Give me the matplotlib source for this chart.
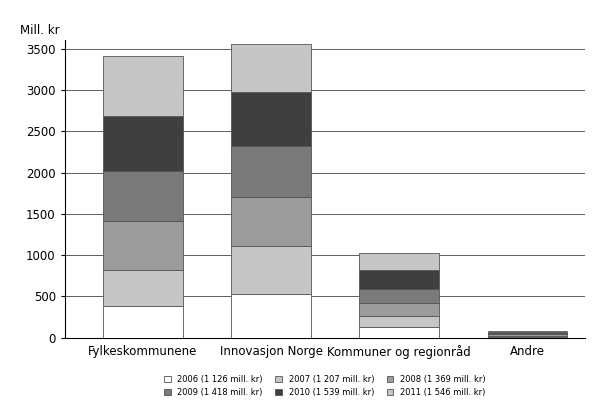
import matplotlib
matplotlib.use("Agg")
import matplotlib.pyplot as plt
import numpy as np

categories = ["Fylkeskommunene", "Innovasjon Norge", "Kommuner og regionråd", "Andre"]
series = ["2006 (1 126 mill. kr)", "2007 (1 207 mill. kr)", "2008 (1 369 mill. kr)",
          "2009 (1 418 mill. kr)", "2010 (1 539 mill. kr)", "2011 (1 546 mill. kr)"]
values = [
    [380, 530, 130, 12],
    [435, 580, 135, 14],
    [600, 600, 155, 14],
    [605, 610, 170, 14],
    [670, 650, 230, 14],
    [720, 590, 210, 12],
]
colors = ["#ffffff", "#c6c6c6", "#9c9c9c", "#7a7a7a", "#3f3f3f", "#c6c6c6"]

fig = plt.figure(figsize=(6, 4.16), dpi=100)
ax = fig.add_axes([0.108, 0.188, 0.867, 0.715])
x = np.arange(len(categories))
bottom = np.zeros(len(categories))
for s, v, c in zip(series, values, colors):
    ax.bar(x, v, 0.62, bottom=bottom, color=c, edgecolor="#555555", linewidth=0.6, label=s, zorder=3)
    bottom += np.array(v)
ax.set_xlim(-0.61, 3.45)
ax.set_ylim(0, 3600)
ax.set_yticks(range(0, 3501, 500))
ax.tick_params(axis="y", labelsize=8.5, length=3)
ax.tick_params(axis="x", labelsize=8.5, length=0, pad=5)
ax.set_xticks(x)
ax.set_xticklabels(categories)
ax.grid(axis="y", color="#444444", linewidth=0.6, zorder=0)
for sp in ["top", "right"]:
    ax.spines[sp].set_visible(False)
ax.text(-0.01, 1.01, "Mill. kr", transform=ax.transAxes, ha="right", va="bottom", fontsize=8.5)
h, l = ax.get_legend_handles_labels()
order = [0, 3, 1, 4, 2, 5]
ax.legend([h[i] for i in order], [l[i] for i in order], loc="upper center",
          bbox_to_anchor=(0.5, -0.1), ncol=3, fontsize=6, frameon=False,
          handlelength=0.8, handleheight=0.8, columnspacing=1.5)
fig.savefig("out.png")
